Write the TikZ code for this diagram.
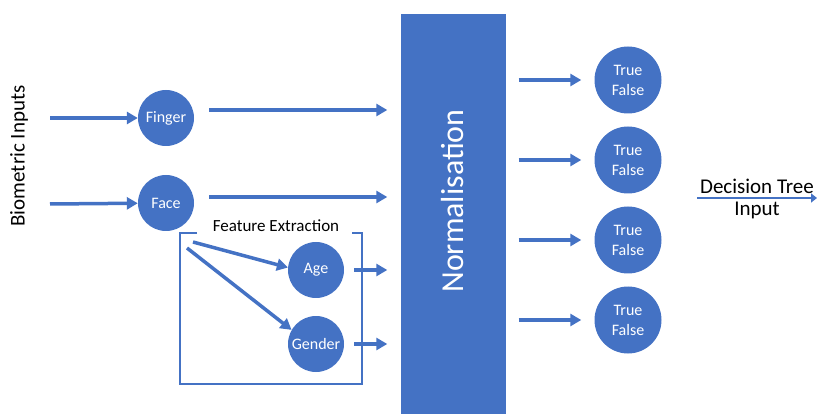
\documentclass[tikz,border=0pt]{standalone}
\usepackage{fontspec}
\setmainfont{Carlito}
\usetikzlibrary{positioning,arrows.meta}
\definecolor{offblue}{HTML}{4472C4}

\begin{document}
\begin{tikzpicture}[x=1pt, y=-1pt,
    blob/.style={circle, fill=offblue, text=white, minimum size=56pt, inner sep=0pt, font=\fontsize{16}{18}\selectfont},
    tfblob/.style={circle, fill=offblue, text=white, minimum size=67pt, inner sep=0pt, align=center, font=\fontsize{16}{20}\selectfont},
    flow/.style={draw=offblue, line width=3.5pt, -{Triangle[length=11pt,width=12pt]}},
    frame/.style={draw=offblue, line width=2.5pt}]
    \useasboundingbox (0,0) rectangle (817,414);

    \node[rotate=90, font=\fontsize{21}{24}\selectfont] (bio) at (19,156) {Biometric Inputs};

    \node[blob] (finger) at (166,118) {Finger};
    \node[blob] (face) at (166,203) {Face};
    \node[blob] (age) at (316,270) {Age};
    \node[blob] (gender) at (316,344) {Gender};

    \node[fill=offblue, minimum width=105pt, minimum height=400pt, inner sep=0pt] (norm) at (453,214) {};
    \node[rotate=90, text=white, font=\fontsize{32}{36}\selectfont] (normtext) at (453,201) {Normalisation};

    \node[font=\fontsize{17}{19}\selectfont] (fe) at (276,226) {Feature Extraction};
    \draw[frame] (197,233) -- (180,233) -- (180,384) -- (362,384) -- (362,233) -- (352,233);

    \coordinate (in1) at (50,118);
    \coordinate (in2) at (50,204);
    \coordinate (fx1) at (193,242);
    \coordinate (fx2) at (187,248);

    \draw[flow] (in1) -- (finger);
    \draw[flow] (in2) -- (face);
    \draw[flow, shorten <=15pt, shorten >=13pt] ([yshift=8pt]finger.east) -- ([yshift=8pt]finger.east -| norm.west);
    \draw[flow, shorten <=15pt, shorten >=13pt] ([yshift=6pt]face.east) -- ([yshift=6pt]face.east -| norm.west);
    \draw[flow] (fx1) -- (age.175);
    \draw[flow] (fx2) -- (gender.150);
    \draw[flow, shorten <=10pt, shorten >=13pt] (age.east) -- (age.east -| norm.west);
    \draw[flow, shorten <=10pt, shorten >=13pt] (gender.east) -- (gender.east -| norm.west);

    % outputs
    \foreach \i/\y in {1/80,2/160,3/240,4/320} {
        \node[tfblob] (tf\i) at (628,\y) {True\\False};
        \draw[flow, shorten <=13pt, shorten >=13pt] (tf\i.west -| norm.east) -- (tf\i.west);
    }

    \coordinate (dt1) at (697,198);
    \coordinate (dt2) at (817,198);
    \draw[draw=offblue, line width=2.5pt, -{Triangle[length=6pt,width=9pt]}] (dt1) -- node[above, black, font=\fontsize{21}{24}\selectfont, inner sep=3pt] {Decision Tree} node[below, black, font=\fontsize{21}{24}\selectfont, inner sep=3pt] {Input} (dt2);
\end{tikzpicture}
\end{document}
